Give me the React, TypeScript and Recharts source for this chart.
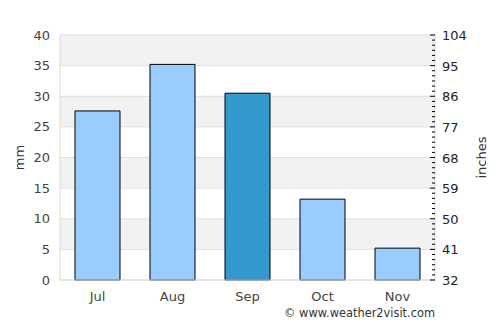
import { ComposedChart, Bar, Line, Cell, CartesianGrid, XAxis, YAxis, Label } from "recharts";

const months = ["Jul", "Aug", "Sep", "Oct", "Nov"];
const rainfallMm = [27.6, 35.2, 30.5, 13.2, 5.2];
const mmTicks = [0, 5, 10, 15, 20, 25, 30, 35, 40];
const rightMajorTicks = [32, 41, 50, 59, 68, 77, 86, 95, 104];
const highlightMonth = "Sep";

const data = months.map((m, i) => ({ month: m, mm: rainfallMm[i] }));

// minor ticks between the labelled right-axis ticks
const rightTicks: number[] = [];
for (let v = 32; v <= 104.001; v += 1.5) rightTicks.push(Math.round(v * 10) / 10);

const font = "DejaVu Sans, sans-serif";

const RightTick = (props: any) => {
    const { x, y, payload } = props;
    const v = payload.value;
    const major = rightMajorTicks.includes(v);
    const ax = x - 7;
    return (
        <g>
            <line x1={ax - (major ? 5 : 3)} x2={ax} y1={y} y2={y} stroke="#000" strokeWidth={1} />
            {major && (
                <text x={x} y={y} dy={5} fill="#222" fontSize={13} fontFamily={font} textAnchor="start">
                    {v}
                </text>
            )}
        </g>
    );
};

export default function App() {
    return (
        <div style={{ position: "absolute", left: 0, top: 0, width: 500, height: 325, background: "#fff" }}>
            <ComposedChart
                width={500}
                height={325}
                data={data}
                margin={{ top: 35, right: 20, bottom: 20, left: 20 }}
                barCategoryGap="20%"
            >
                <CartesianGrid
                    vertical={false}
                    stroke="#e0e0e0"
                    horizontalFill={["#f2f2f2", "#ffffff"]}
                    yAxisId="mm"
                />
                <XAxis
                    dataKey="month"
                    tickLine={false}
                    axisLine={{ stroke: "#d8d8d8" }}
                    tick={{ fill: "#444", fontSize: 13, fontFamily: font }}
                    tickMargin={6}
                    height={25}
                >
                    <Label
                        content={(p: any) => (
                            <text
                                x={p.viewBox.x + p.viewBox.width}
                                y={p.viewBox.y + 37}
                                textAnchor="end"
                                fontSize={11.4}
                                fontFamily={font}
                                fill="#333"
                            >
                                © www.weather2visit.com
                            </text>
                        )}
                    />
                </XAxis>
                <YAxis
                    yAxisId="mm"
                    domain={[0, 40]}
                    ticks={mmTicks}
                    width={40}
                    tickLine={false}
                    axisLine={{ stroke: "#d8d8d8" }}
                    tick={{ fill: "#444", fontSize: 13, fontFamily: font }}
                    tickMargin={4}
                >
                    <Label
                        content={(p: any) => (
                            <text
                                x={p.viewBox.x}
                                y={p.viewBox.y + p.viewBox.height / 2}
                                transform={`rotate(-90 ${p.viewBox.x} ${p.viewBox.y + p.viewBox.height / 2})`}
                                textAnchor="middle"
                                dy={4}
                                fontSize={13}
                                fontFamily={font}
                                fill="#333"
                            >
                                mm
                            </text>
                        )}
                    />
                </YAxis>
                <YAxis
                    yAxisId="in"
                    orientation="right"
                    domain={[32, 104]}
                    allowDataOverflow
                    ticks={rightTicks}
                    interval={0}
                    width={45}
                    tickLine={false}
                    axisLine={{ stroke: "#d8d8d8" }}
                    tick={<RightTick />}
                    tickMargin={1}
                >
                    <Label
                        content={(p: any) => {
                            const cx = p.viewBox.x + 47;
                            const cy = p.viewBox.y + p.viewBox.height / 2;
                            return (
                                <text
                                    x={cx}
                                    y={cy}
                                    transform={`rotate(-90 ${cx} ${cy})`}
                                    textAnchor="middle"
                                    dy={4}
                                    fontSize={13}
                                    fontFamily={font}
                                    fill="#333"
                                >
                                    inches
                                </text>
                            );
                        }}
                    />
                </YAxis>
                <Bar dataKey="mm" yAxisId="mm" stroke="#000" strokeWidth={1} isAnimationActive={false}>
                    {data.map((d) => (
                        <Cell key={d.month} fill={d.month === highlightMonth ? "#3399cc" : "#99ccff"} />
                    ))}
                </Bar>
                {/* invisible series so the right axis gets drawn */}
                <Line
                    dataKey="mm"
                    yAxisId="in"
                    stroke="none"
                    dot={false}
                    activeDot={false}
                    legendType="none"
                    isAnimationActive={false}
                />
            </ComposedChart>
        </div>
    );
}
